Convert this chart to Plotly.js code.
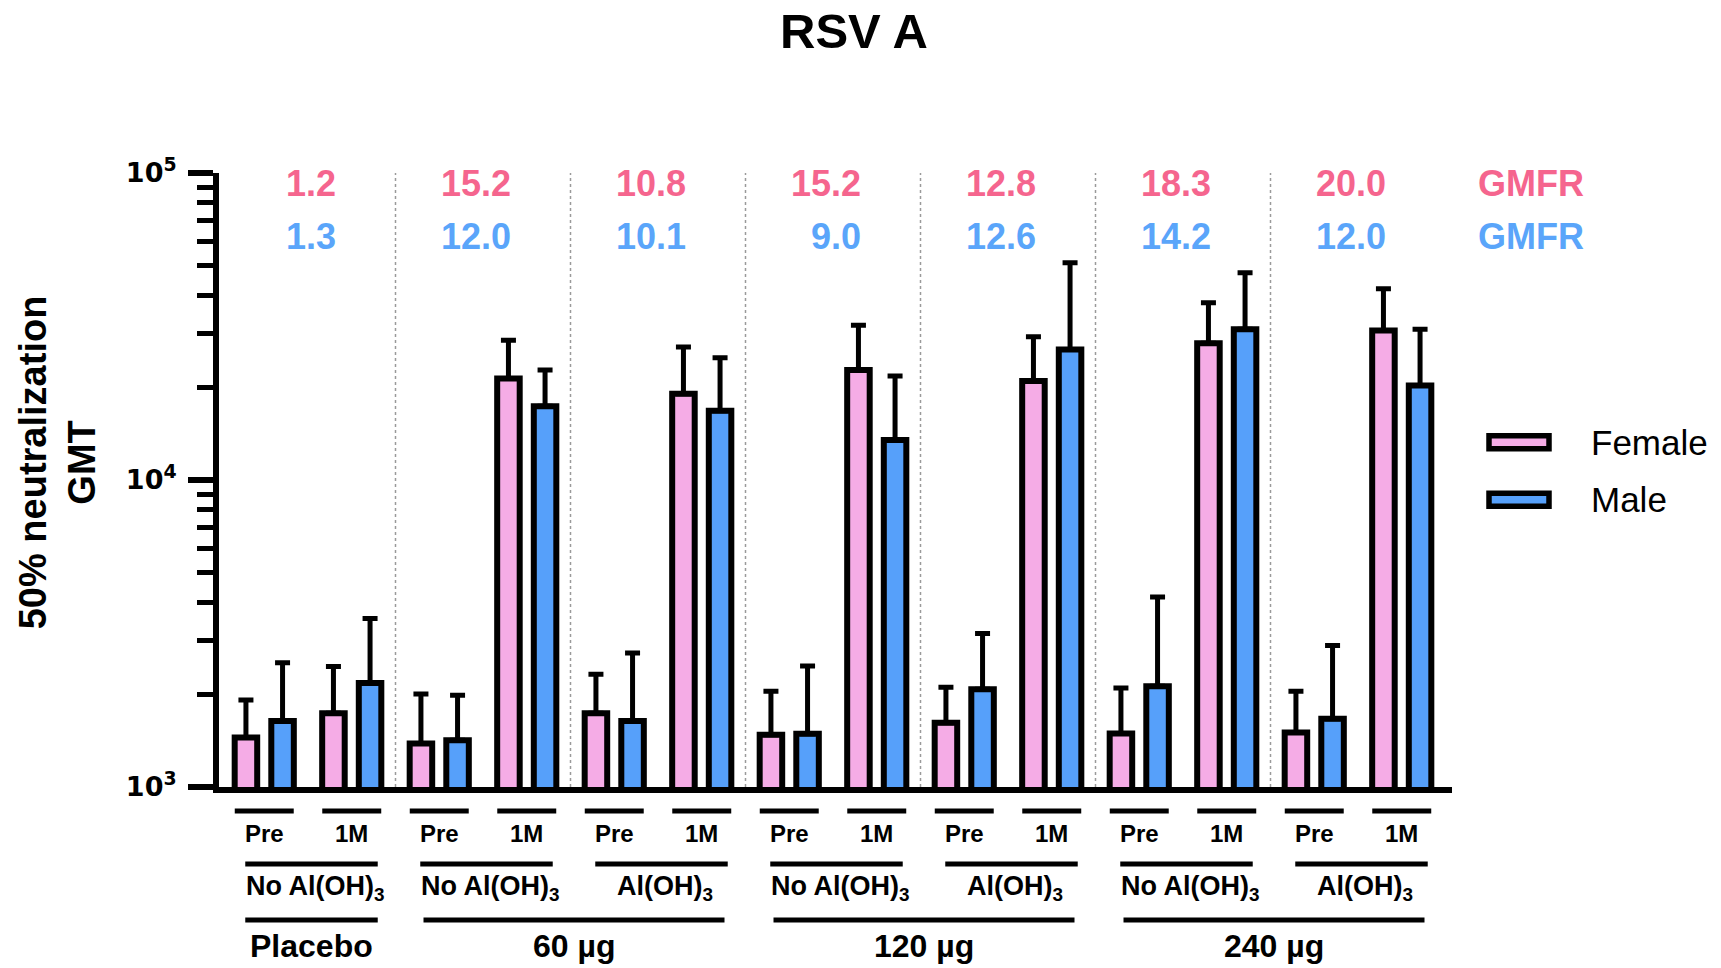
<!DOCTYPE html>
<html>
<head>
<meta charset="utf-8">
<script src="https://cdn.plot.ly/plotly-3.0.1.min.js"></script>
<style>
  html, body { margin: 0; padding: 0; background: #fff; }
  #chart { width: 1721px; height: 968px; }
</style>
</head>
<body>
<div id="chart"></div>
<script>
// ---------------- DATA ----------------
const timepoints = ['Pre', '1M', 'Pre', '1M', 'Pre', '1M', 'Pre', '1M', 'Pre', '1M', 'Pre', '1M', 'Pre', '1M'];
const adjuvantLabels = ['No Al(OH)<sub>3</sub>', 'No Al(OH)<sub>3</sub>', 'Al(OH)<sub>3</sub>',
                        'No Al(OH)<sub>3</sub>', 'Al(OH)<sub>3</sub>',
                        'No Al(OH)<sub>3</sub>', 'Al(OH)<sub>3</sub>'];
const doseLabels = ['Placebo', '60 µg', '120 µg', '240 µg'];
const doseGroupSpan = [1, 2, 2, 2];   // number of adjuvant groups covered by each dose

const seriesNames = ['Female', 'Male'];
const femaleGMT   = [1450, 1740, 1385, 21400, 1740, 19100, 1480, 22800, 1620, 21000, 1495, 27900, 1505, 30700];
const femaleUpper = [1920, 2470, 2010, 28500, 2330, 27100, 2050, 31900, 2115, 29300, 2100, 37800, 2050, 42000];
const maleGMT     = [1640, 2180, 1420, 17400, 1640, 16800, 1490, 13500, 2080, 26600, 2130, 31000, 1670, 20300];
const maleUpper   = [2540, 3540, 1990, 22800, 2730, 25000, 2480, 21800, 3160, 51000, 4160, 47300, 2890, 31000];

const gmfrFemale = ['1.2', '15.2', '10.8', '15.2', '12.8', '18.3', '20.0'];
const gmfrMale   = ['1.3', '12.0', '10.1', '9.0', '12.6', '14.2', '12.0'];
const gmfrLabel  = 'GMFR';

const yTickVals = [1000, 10000, 100000];
const yTickText = ['<b>10<sup>3</sup></b>', '<b>10<sup>4</sup></b>', '<b>10<sup>5</sup></b>'];
const minorDigits = [2, 3, 4, 5, 6, 7, 8, 9];
const minorDecades = [1000, 10000];

// ---------------- STYLE / LAYOUT ----------------
const FONT = '"Liberation Sans", Arial, Helvetica, sans-serif';
const TICKFONT = '"DejaVu Sans", "Liberation Sans", Arial, sans-serif';
const PINK_FILL = '#F5ACE6';
const BLUE_FILL = '#56A0FA';
const PINK_TEXT = '#F5658E';
const BLUE_TEXT = '#5AA5FA';

const W = 1721, H = 968;
const plotL = 219, plotR = 1452, plotT = 172.5, plotB = 787;
const unitPx = 87.5;                       // pixels per subgroup
const xMin = -0.5 - (220.5 - plotL) / unitPx;
const xMax = xMin + (plotR - plotL) / unitPx;

const py = p => (plotB - p) / (plotB - plotT);     // pixel y -> paper y
const px = p => (p - plotL) / (plotR - plotL);     // pixel x -> paper x

const xIdx = timepoints.map((_, i) => i);
const minorTickVals = [];
minorDecades.forEach(d => minorDigits.forEach(k => minorTickVals.push(k * d)));

function errPlus(gmt, upper) { return upper.map((u, i) => u - gmt[i]); }

const traces = [
  {
    type: 'bar', name: seriesNames[0], x: xIdx, y: femaleGMT,
    marker: { color: PINK_FILL, line: { color: '#000', width: 6 } },
    error_y: { type: 'data', symmetric: false, array: errPlus(femaleGMT, femaleUpper),
               arrayminus: femaleGMT.map(() => 0), color: '#000', thickness: 5, width: 7.5 },
    showlegend: false, hoverinfo: 'y'
  },
  {
    type: 'bar', name: seriesNames[1], x: xIdx, y: maleGMT,
    marker: { color: BLUE_FILL, line: { color: '#000', width: 6 } },
    error_y: { type: 'data', symmetric: false, array: errPlus(maleGMT, maleUpper),
               arrayminus: maleGMT.map(() => 0), color: '#000', thickness: 5, width: 7.5 },
    showlegend: false, hoverinfo: 'y'
  }
];

const shapes = [];
const annotations = [];

// dotted separators between adjuvant groups
for (let g = 0; g < adjuvantLabels.length - 1; g++) {
  shapes.push({ type: 'line', xref: 'x', yref: 'paper', x0: 2 * g + 1.5, x1: 2 * g + 1.5,
                y0: 0, y1: 1, line: { color: '#9a9a9a', width: 1.5, dash: 'dot' }, layer: 'below' });
}

// row 1: timepoint labels with lines
timepoints.forEach((t, i) => {
  shapes.push({ type: 'line', xref: 'x', yref: 'paper', x0: i - 0.337, x1: i + 0.337,
                y0: py(811), y1: py(811), line: { color: '#000', width: 5 } });
  annotations.push({ xref: 'x', yref: 'paper', x: i, y: py(834), text: '<b>' + t + '</b>',
                     showarrow: false, xanchor: 'center', yanchor: 'middle',
                     font: { family: FONT, size: 24, color: '#000' } });
});

// row 2: adjuvant labels
adjuvantLabels.forEach((a, g) => {
  const c = 2 * g + 0.5 + 0.04;
  shapes.push({ type: 'line', xref: 'x', yref: 'paper', x0: c - 0.757, x1: c + 0.757,
                y0: py(864), y1: py(864), line: { color: '#000', width: 5 } });
  annotations.push({ xref: 'x', yref: 'paper', x: 2 * g + 0.5 + 0.08, y: py(888), text: '<b>' + a + '</b>',
                     showarrow: false, xanchor: 'center', yanchor: 'middle',
                     font: { family: FONT, size: 27, color: '#000' } });
});

// row 3: dose labels
let gStart = 0;
doseLabels.forEach((d, k) => {
  const span = doseGroupSpan[k];
  const c = (2 * gStart - 0.5 + 2 * (gStart + span) - 0.5) / 2 + 0.04;
  const half = span === 1 ? 0.757 : 1.72;
  shapes.push({ type: 'line', xref: 'x', yref: 'paper', x0: c - half, x1: c + half,
                y0: py(920), y1: py(920), line: { color: '#000', width: 5 } });
  annotations.push({ xref: 'x', yref: 'paper', x: c, y: py(946), text: '<b>' + d + '</b>',
                     showarrow: false, xanchor: 'center', yanchor: 'middle',
                     font: { family: FONT, size: 32, color: '#000' } });
  gStart += span;
});

// GMFR rows
gmfrFemale.forEach((v, g) => {
  annotations.push({ xref: 'x', yref: 'paper', x: 2 * g + 0.84, y: py(183), text: '<b>' + v + '</b>',
                     showarrow: false, xanchor: 'right', yanchor: 'middle',
                     font: { family: FONT, size: 36, color: PINK_TEXT } });
});
gmfrMale.forEach((v, g) => {
  annotations.push({ xref: 'x', yref: 'paper', x: 2 * g + 0.84, y: py(236), text: '<b>' + v + '</b>',
                     showarrow: false, xanchor: 'right', yanchor: 'middle',
                     font: { family: FONT, size: 36, color: BLUE_TEXT } });
});
annotations.push({ xref: 'paper', yref: 'paper', x: px(1476), y: py(183), text: '<b>' + gmfrLabel + '</b>',
                   showarrow: false, xanchor: 'left', yanchor: 'middle',
                   font: { family: FONT, size: 36, color: PINK_TEXT } });
annotations.push({ xref: 'paper', yref: 'paper', x: px(1476), y: py(236), text: '<b>' + gmfrLabel + '</b>',
                   showarrow: false, xanchor: 'left', yanchor: 'middle',
                   font: { family: FONT, size: 36, color: BLUE_TEXT } });

// Legend (drawn as shapes + text)
const legendItems = [
  { name: seriesNames[0], fill: PINK_FILL, yc: 442 },
  { name: seriesNames[1], fill: BLUE_FILL, yc: 499.5 }
];
legendItems.forEach(it => {
  shapes.push({ type: 'rect', xref: 'paper', yref: 'paper', x0: px(1489), x1: px(1549),
                y0: py(it.yc + 6.5), y1: py(it.yc - 6.5), fillcolor: it.fill,
                line: { color: '#000', width: 5.5 } });
  annotations.push({ xref: 'paper', yref: 'paper', x: px(1589), y: py(it.yc), text: it.name,
                     showarrow: false, xanchor: 'left', yanchor: 'middle',
                     font: { family: FONT, size: 35, color: '#000' } });
});

// Y axis title
annotations.push({ xref: 'paper', yref: 'paper', x: px(57), y: py(462),
                   text: '<b>50% neutralization<br>GMT</b>', textangle: -90,
                   showarrow: false, xanchor: 'center', yanchor: 'middle',
                   font: { family: FONT, size: 38, color: '#000' } });

const layout = {
  width: W, height: H,
  paper_bgcolor: '#fff', plot_bgcolor: '#fff',
  margin: { l: plotL, r: W - plotR, t: plotT, b: H - plotB, pad: 0 },
  title: { text: '<b>RSV A</b>', x: 854 / W, xanchor: 'center', xref: 'container',
           y: 1 - 31 / H, yanchor: 'middle', yref: 'container',
           font: { family: FONT, size: 49, color: '#000' } },
  font: { family: FONT, color: '#000' },
  barmode: 'group', bargap: 0.163, bargroupgap: 0.385,
  showlegend: false,
  xaxis: { range: [xMin, xMax], showticklabels: false, ticks: '', showgrid: false, zeroline: false,
           showline: true, linecolor: '#000', linewidth: 6, fixedrange: true },
  yaxis: { type: 'log', range: [3, 5], tickmode: 'array', tickvals: yTickVals, ticktext: yTickText,
           ticks: 'outside', ticklen: 25, tickwidth: 6, tickcolor: '#000', ticklabelstandoff: 6,
           minor: { tickmode: 'array', tickvals: minorTickVals, ticks: 'outside', ticklen: 16,
                    tickwidth: 5, tickcolor: '#000', showgrid: false },
           showgrid: false, zeroline: false, showline: true, linecolor: '#000', linewidth: 6,
           tickfont: { family: TICKFONT, size: 27, color: '#000' }, fixedrange: true },
  shapes: shapes,
  annotations: annotations
};

Plotly.newPlot('chart', traces, layout, { displayModeBar: false, staticPlot: true });
</script>
</body>
</html>
